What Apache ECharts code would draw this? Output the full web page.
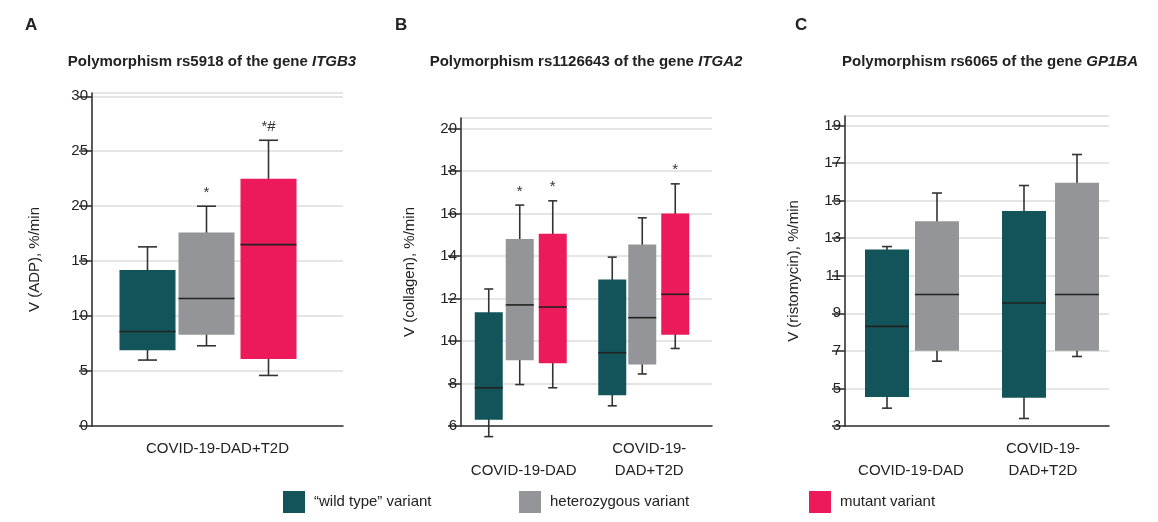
<!DOCTYPE html>
<html>
<head>
<meta charset="utf-8">
<script src="https://cdn.jsdelivr.net/npm/echarts@6/dist/echarts.min.js"></script>
<style>html,body{margin:0;padding:0;background:#fff}#main{width:1158px;height:522px}</style>
</head>
<body>
<div id="main"></div>
<script>
// variants
var variants = ['“wild type” variant', 'heterozygous variant', 'mutant variant'];
var colors = ['#12545a', '#939598', '#ec1a5a'];
// [min, q1, median, q3, max] per category
var catsA = ['COVID-19-DAD+T2D'];
var wildA = [[6.0, 6.9, 8.6, 14.2, 16.3]];
var hetA = [[7.3, 8.3, 11.6, 17.6, 20.0]];
var mutA = [[4.6, 6.1, 16.5, 22.5, 26.0]];
var noteA = [[''], ['*'], ['*#']];

var catsB = ['\nCOVID-19-DAD', 'COVID-19-\nDAD+T2D'];
var wildB = [[5.5, 6.3, 7.8, 11.35, 12.45], [6.95, 7.45, 9.45, 12.9, 13.95]];
var hetB = [[7.95, 9.1, 11.7, 14.8, 16.4], [8.45, 8.9, 11.1, 14.55, 15.8]];
var mutB = [[7.8, 8.95, 11.6, 15.05, 16.6], [9.65, 10.3, 12.2, 16.0, 17.4]];
var noteB = [['', ''], ['*', ''], ['*', '*']];

var catsC = ['\nCOVID-19-DAD', 'COVID-19-\nDAD+T2D'];
var wildC = [[3.95, 4.55, 8.3, 12.4, 12.55], [3.4, 4.5, 9.55, 14.45, 15.8]];
var hetC = [[6.45, 7.0, 10.0, 13.9, 15.4], [6.7, 7.0, 10.0, 15.95, 17.45]];
var noteC = [['', ''], ['', '']];

// pixel offsets of boxes from band centre, box width, cap width
var layouts = [
  {off: [[-70, -11, 51]], w: 56, cap: 19},
  {off: [[-35, -4, 29], [-37, -7, 26]], w: 28, cap: 9},
  {off: [[-24, 26], [-19, 34]], w: 44, cap: 10}
];

function boxSeries(panel, vi, data, notes) {
  var lay = layouts[panel];
  return {
    name: variants[vi],
    type: 'custom',
    xAxisIndex: panel,
    yAxisIndex: panel,
    itemStyle: {color: colors[vi]},
    data: data.map(function (d, i) { return [i].concat(d); }),
    encode: {x: 0, y: [1, 2, 3, 4, 5]},
    renderItem: function (params, api) {
      var ci = api.value(0);
      var cx = api.coord([ci, 0])[0] + lay.off[ci][vi];
      var y = [1, 2, 3, 4, 5].map(function (k) { return api.coord([ci, api.value(k)])[1]; });
      var hw = lay.w / 2, hc = lay.cap / 2;
      var ln = {stroke: '#333', lineWidth: 1.6};
      var ch = [
        {type: 'line', shape: {x1: cx, y1: y[0], x2: cx, y2: y[4]}, style: ln},
        {type: 'line', shape: {x1: cx - hc, y1: y[0], x2: cx + hc, y2: y[0]}, style: ln},
        {type: 'line', shape: {x1: cx - hc, y1: y[4], x2: cx + hc, y2: y[4]}, style: ln},
        {type: 'rect', shape: {x: cx - hw, y: y[3], width: lay.w, height: y[1] - y[3]}, style: {fill: colors[vi]}},
        {type: 'line', shape: {x1: cx - hw, y1: y[2], x2: cx + hw, y2: y[2]}, style: {stroke: '#222', lineWidth: 1.6}}
      ];
      var t = notes[vi][ci];
      if (t) ch.push({type: 'text', style: {text: t, x: cx, y: y[4] - 6, align: 'center', verticalAlign: 'bottom', fontSize: 15, fill: '#333', fontFamily: 'Liberation Sans'}});
      return {type: 'group', children: ch};
    }
  };
}

var grids = [
  {left: 92, top: 93, width: 251, bottom: 96},
  {left: 461, top: 118, width: 251, bottom: 96},
  {left: 845, top: 116, width: 264, bottom: 96}
];
var yCfg = [
  {min: 0, max: 30.3, interval: 5, name: 'V (ADP), %/min', gap: 50},
  {min: 6, max: 20.5, interval: 2, name: 'V (collagen), %/min', gap: 44},
  {min: 3, max: 19.5, interval: 2, name: 'V (ristomycin), %/min', gap: 44}
];
var cats = [catsA, catsB, catsC];
var font = 'Liberation Sans';

var option = {
  animation: false,
  textStyle: {fontFamily: font, color: '#222'},
  title: [
    {text: 'A', left: 20, top: 12, textStyle: {fontSize: 17, fontWeight: 'bold', color: '#222', fontFamily: font}},
    {text: 'B', left: 390, top: 12, textStyle: {fontSize: 17, fontWeight: 'bold', color: '#222', fontFamily: font}},
    {text: 'C', left: 790, top: 12, textStyle: {fontSize: 17, fontWeight: 'bold', color: '#222', fontFamily: font}},
    {text: '{n|Polymorphism rs5918 of the gene }{i|ITGB3}', left: 207, top: 49, textAlign: 'center'},
    {text: '{n|Polymorphism rs1126643 of the gene }{i|ITGA2}', left: 581, top: 49, textAlign: 'center'},
    {text: '{n|Polymorphism rs6065 of the gene }{i|GP1BA}', left: 985, top: 49, textAlign: 'center'}
  ].map(function (t, i) {
    if (i >= 3) t.textStyle = {rich: {n: {fontSize: 15, color: '#222', fontFamily: font}, i: {fontSize: 15, fontStyle: 'italic', color: '#222', fontFamily: font}}};
    return t;
  }),
  legend: [0, 1, 2].map(function (i) {
    return {
      data: [variants[i]], left: [278, 514, 804][i], top: 486, itemWidth: 22, itemHeight: 22, icon: 'rect',
      itemGap: 10, selectedMode: false, textStyle: {fontSize: 15, color: '#222', fontFamily: font, padding: [0, 0, 0, 4]}
    };
  }),
  grid: grids,
  xAxis: cats.map(function (c, i) {
    return {
      type: 'category', gridIndex: i, data: c,
      axisLine: {lineStyle: {color: '#333', width: 1.6}},
      axisTick: {show: false},
      axisLabel: {fontSize: 15, color: '#222', lineHeight: 22, margin: 12, interval: 0, fontFamily: font}
    };
  }),
  yAxis: yCfg.map(function (c, i) {
    return {
      type: 'value', gridIndex: i, min: c.min, max: c.max, interval: c.interval,
      name: c.name, nameLocation: 'middle', nameGap: c.gap, nameRotate: 90,
      nameTextStyle: {fontSize: 15, color: '#222', fontFamily: font},
      axisLine: {show: true, lineStyle: {color: '#333', width: 1.6}},
      axisTick: {show: true, length: 13, lineStyle: {color: '#333', width: 1.6}},
      axisLabel: {fontSize: 15, color: '#222', margin: 4, fontFamily: font},
      splitLine: {lineStyle: {color: '#dcdcdc', width: 1.5}}
    };
  }),
  series: [
    boxSeries(0, 0, wildA, noteA), boxSeries(0, 1, hetA, noteA), boxSeries(0, 2, mutA, noteA),
    boxSeries(1, 0, wildB, noteB), boxSeries(1, 1, hetB, noteB), boxSeries(1, 2, mutB, noteB),
    boxSeries(2, 0, wildC, noteC), boxSeries(2, 1, hetC, noteC)
  ]
};

var chart = echarts.init(document.getElementById('main'));
chart.setOption(option);
</script>
</body>
</html>
